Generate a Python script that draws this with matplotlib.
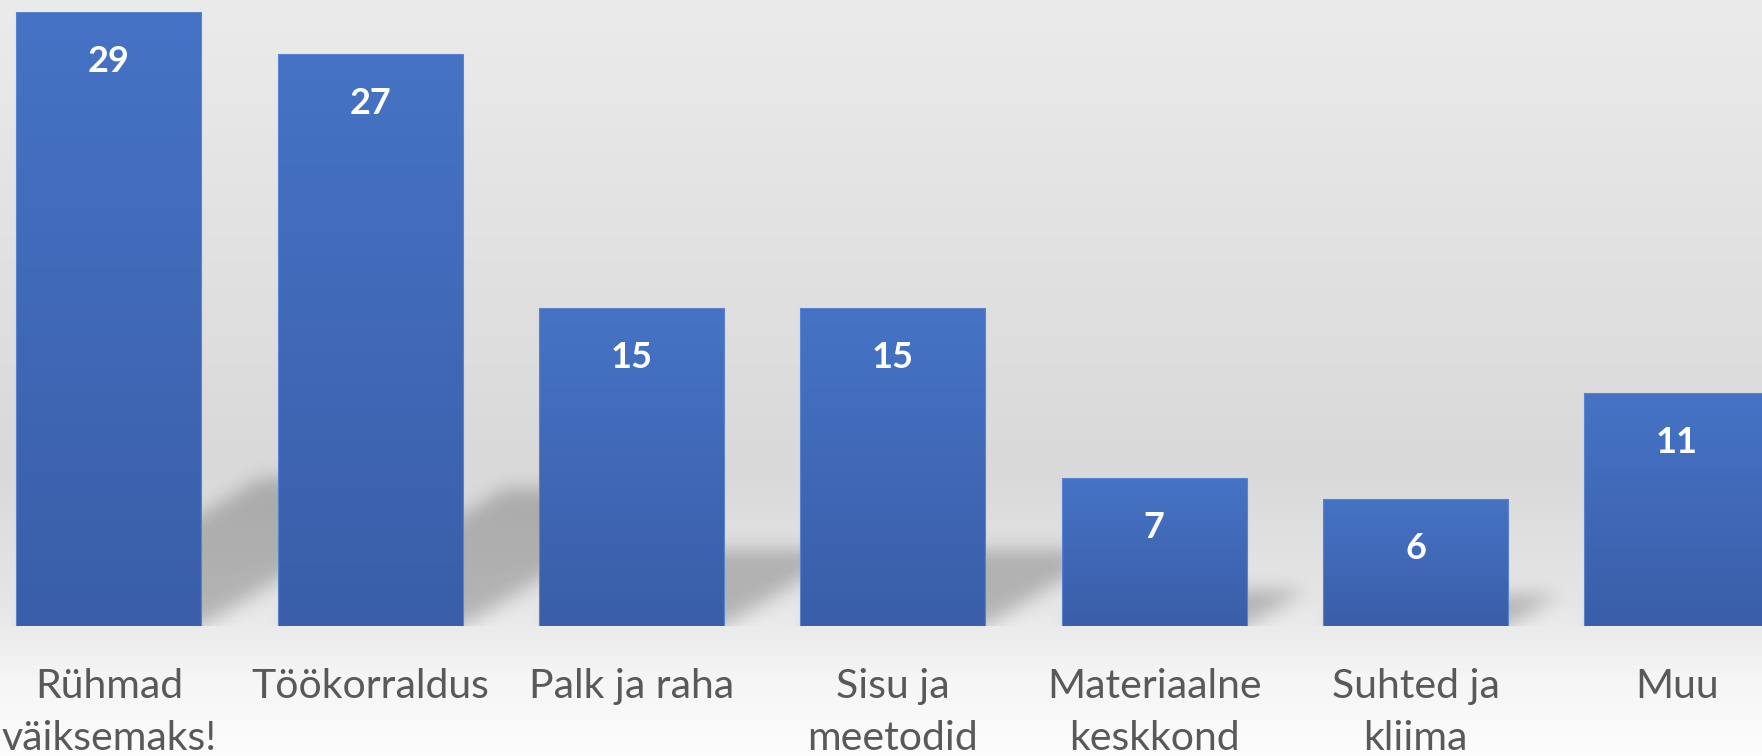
import numpy as np
import matplotlib
matplotlib.use('Agg')
import matplotlib.pyplot as plt
from matplotlib.colors import LinearSegmentedColormap

plt.rcParams['font.family'] = ['Lato', 'DejaVu Sans']

categories = ["Rühmad\nväiksemaks!", "Töökorraldus", "Palk ja raha", "Sisu ja\nmeetodid",
              "Materiaalne\nkeskkond", "Suhted ja\nkliima", "Muu"]
values = [29, 27, 15, 15, 7, 6, 11]

W, H, DPI = 1762, 756, 100
fig = plt.figure(figsize=(W / DPI, H / DPI), dpi=DPI)

# background gradient
bg_ax = fig.add_axes([0, 0, 1, 1], zorder=0)
bg_cmap = LinearSegmentedColormap.from_list(
    'bg', [(0, '#fcfcfc'), (0.1, '#f6f6f6'), (0.2, '#e6e6e6'), (0.38, '#d9d9d9'), (1, '#ebebeb')])
bg_ax.imshow(np.linspace(0, 1, 512).reshape(-1, 1), aspect='auto', cmap=bg_cmap,
             origin='lower', extent=[0, 1, 0, 1])
bg_ax.set_axis_off()

bottom_px, top_px = 626, 12
ax = fig.add_axes([0, 1 - bottom_px / H, 1, (bottom_px - top_px) / H], zorder=1)
ax.patch.set_alpha(0)
x = np.arange(len(values))
XL = (-0.417, 6.326)
YL = (0, 29)
bw = 0.708

bar_cmap = LinearSegmentedColormap.from_list('bar', ['#3a5ea9', '#4673c5'])
bars = ax.bar(x, values, width=bw, color='none', edgecolor='#5a84cf', linewidth=0.8, zorder=3)
for b in bars:
    im = ax.imshow(np.linspace(0, 1, 256).reshape(-1, 1), cmap=bar_cmap, origin='lower',
                   aspect='auto', extent=[b.get_x(), b.get_x() + b.get_width(), 0, b.get_height()],
                   zorder=2.9)
    im.set_clip_path(b)

# shadows
px_per_x = W / (XL[1] - XL[0])
px_per_y = (bottom_px - top_px) / (YL[1] - YL[0])
ys0, ys1 = -1.0, 10.0
nx = W
ny = int((ys1 - ys0) * px_per_y)
X = np.linspace(XL[0], XL[1], nx)
Y = np.linspace(ys0, ys1, ny)
XX, YY = np.meshgrid(X, Y)
mask = np.zeros_like(XX)
shear = 1.65 * px_per_y / px_per_x
k = 0.24
for xi, v in zip(x, values):
    inside = (YY >= 0) & (YY <= k * v) & (np.abs(XX - shear * YY - xi) <= bw / 2)
    mask[inside] = 1.0
sig = 9
kr = np.arange(-3 * sig, 3 * sig + 1)
kern = np.exp(-kr ** 2 / (2 * sig ** 2))
kern /= kern.sum()
mask = np.apply_along_axis(lambda r: np.convolve(r, kern, mode='same'), 1, mask)
mask = np.apply_along_axis(lambda c: np.convolve(c, kern, mode='same'), 0, mask)
rgba = np.zeros((ny, nx, 4))
rgba[..., 3] = mask * 0.22
ax.imshow(rgba, origin='lower', extent=[XL[0], XL[1], ys0, ys1], aspect='auto', zorder=1,
          interpolation='bilinear')

for xi, v in zip(x, values):
    ax.annotate(str(v), (xi, v), xytext=(0, -49.5 * 72 / DPI), textcoords='offset points',
                ha='center', va='center', color='white', fontweight='bold', fontsize=26, zorder=5)

ax.set_xlim(*XL)
ax.set_ylim(*YL)
ax.set_xticks(x, categories)
ax.tick_params(axis='x', length=0, pad=30, labelsize=29.5, labelcolor='#595959')
for t in ax.get_xticklabels():
    t.set_linespacing(1.5)
ax.set_yticks([])
for s in ax.spines.values():
    s.set_visible(False)

fig.savefig('out.png', dpi=DPI)
